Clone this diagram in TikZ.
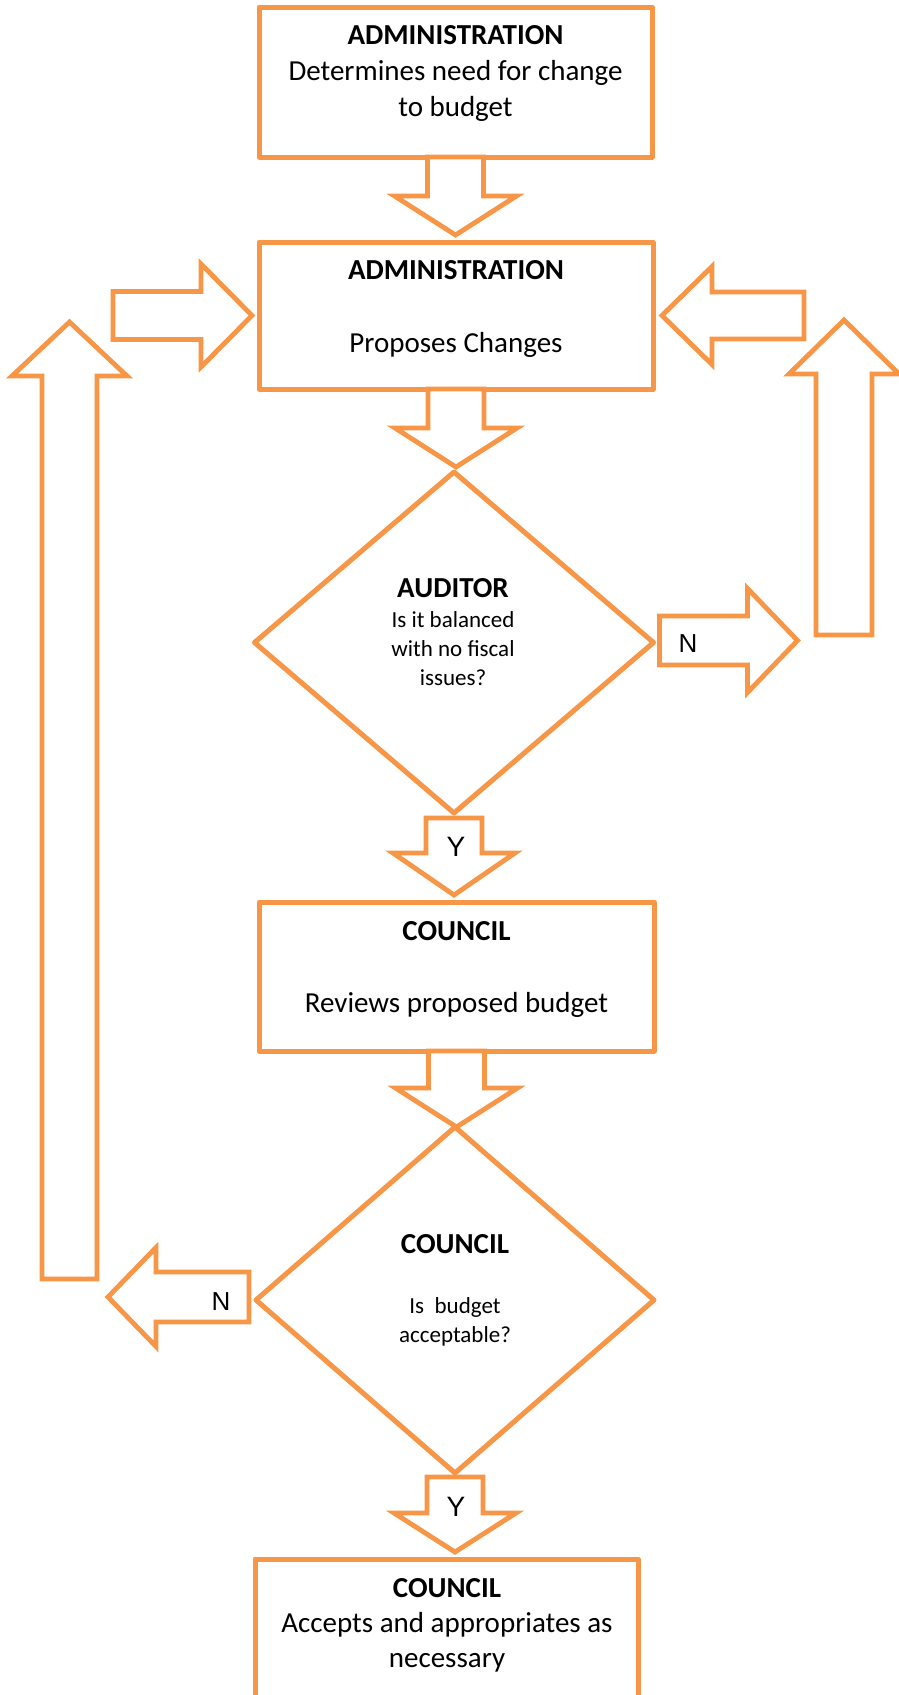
\documentclass[tikz,border=0pt]{standalone}
\usepackage{fontspec}
\setmainfont{Carlito}
\newfontfamily\yesno{Liberation Sans}
\usepackage{tikz}
\usetikzlibrary{shapes.geometric}
\usetikzlibrary{positioning}
\usetikzlibrary{calc}

\definecolor{flow}{HTML}{F79646}

\newcommand{\boxfont}{\fontsize{29}{36}\selectfont}
\newcommand{\lastfont}{\fontsize{29}{35}\selectfont}
\newcommand{\askfont}{\fontsize{23}{29}\selectfont}
\newcommand{\headfont}{\fontsize{29}{35}\selectfont\bfseries}
\newcommand{\ynfont}{\yesno\fontsize{26}{30}\selectfont}

\tikzset{
  pics/barrow/.style n args={4}{code={
    \draw[draw=flow,line width=4.8pt,fill=white]
      (0,-#1) -- ({#3-#4},-#1) -- ({#3-#4},-#2) -- (#3,0)
      -- ({#3-#4},#2) -- ({#3-#4},#1) -- (0,#1) -- cycle;
  }},
}

\begin{document}
\begin{tikzpicture}[x=1pt,y=1pt]
      \useasboundingbox (0,0) rectangle (899,-1695);
      \begin{scope}[every node/.style={draw=flow,line width=5pt,outer sep=0pt,inner sep=0pt,line join=round}]
        \node[rectangle,minimum width=393pt,minimum height=150pt] (adm1) at (455.5,-82) {};
        \node[rectangle,minimum width=394pt,minimum height=147pt] (adm2) at (456,-315.5) {};
        \node[diamond,minimum width=399pt,minimum height=341pt] (aud) at (454,-642.5) {};
        \node[rectangle,minimum width=395pt,minimum height=149pt] (cou1) at (456.5,-976.5) {};
        \node[diamond,minimum width=398pt,minimum height=346pt] (acc) at (455,-1300) {};
        \node[rectangle,minimum width=383pt,minimum height=146pt] (cou2) at (446.5,-1632) {};
      \end{scope}
      % main line
      \pic[rotate=-90] at (adm1.south) {barrow={28}{61}{78}{39}};
      \pic[rotate=-90] at (adm2.south) {barrow={28}{61}{78}{39}};
      \pic[rotate=-90] at ([yshift=-5pt]aud.south) {barrow={28}{61}{77}{42}};
      \pic[rotate=-90] at (cou1.south) {barrow={28}{61}{76}{39}};
      \pic[rotate=-90] at ([yshift=-4pt]acc.south) {barrow={28}{61}{75}{39}};
      % N branches
      \pic at ([xshift=6pt,yshift=2pt]aud.east) {barrow={24.5}{52}{138}{50}};
      \pic[rotate=180] at ([xshift=-7pt,yshift=3pt]acc.west) {barrow={25}{49.5}{141}{48}};
      % back to the proposal
      \coordinate (retL) at (69.5,-1279);
      \coordinate (retR) at (844,-635);
      \pic[rotate=90] at (retL) {barrow={27.5}{57.5}{957}{54}};
      \pic[rotate=90] at (retR) {barrow={28}{55}{315}{54}};
      \pic at ([xshift=-146pt]adm2.west) {barrow={24}{51.5}{139}{51}};
      \pic[rotate=180] at ([xshift=151pt]adm2.east) {barrow={23.5}{49}{142}{50}};
      \begin{scope}[every node/.style={inner sep=0pt,align=center}]
        \node[anchor=north,font=\boxfont] (adm1-t) at (455.5,-25.7)
          {\textbf{ADMINISTRATION}\\Determines need for change\\to budget};
        \node[anchor=north,font=\boxfont] (adm2-t) at (456,-260.7)
          {\textbf{ADMINISTRATION}\\[37pt]Proposes Changes};
        \node[anchor=north,font=\askfont] (aud-t) at (453,-578.7)
          {{\headfont AUDITOR}\\[1pt]Is it balanced\\with no fiscal\\issues?};
        \node[anchor=north,font=\boxfont] (cou1-t) at (456.5,-921.7)
          {\textbf{COUNCIL}\\[36pt]Reviews proposed budget};
        \node[anchor=north,font=\askfont] (acc-t) at (455,-1234.7)
          {{\headfont COUNCIL}\\[31pt]Is\ \ budget\\acceptable?};
        \node[anchor=north,font=\lastfont] (cou2-t) at (447,-1578.7)
          {\textbf{COUNCIL}\\Accepts and appropriates as\\necessary};
        \node[font=\ynfont] (n1) at (688,-644) {N};
        \node[font=\ynfont] (n2) at (221,-1302) {N};
        \node[font=\ynfont\fontsize{28}{32}\selectfont] (y1) at (456,-847) {Y};
        \node[font=\ynfont\fontsize{28}{32}\selectfont] (y2) at (456,-1507) {Y};
      \end{scope}
\end{tikzpicture}
\end{document}
